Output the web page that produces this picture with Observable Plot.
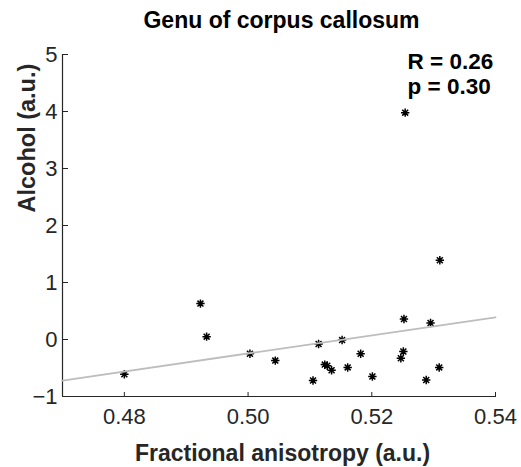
<!DOCTYPE html>
<html><head><meta charset="utf-8">
<script src="https://cdn.jsdelivr.net/npm/d3@7"></script>
<script src="https://cdn.jsdelivr.net/npm/@observablehq/plot@0.6"></script>
<style>body{margin:0;background:#fff;} svg{display:block}</style>
</head><body><div id="chart"></div>
<script>
const fa = [0.4800, 0.4923, 0.4933, 0.5003, 0.5044, 0.5105, 0.5114, 0.5124, 0.5128, 0.5135, 0.5152,
            0.5161, 0.5182, 0.5201, 0.5247, 0.5251, 0.5252, 0.5254, 0.5288, 0.5295, 0.5309, 0.5310];
const alcohol = [-0.61, 0.63, 0.05, -0.25, -0.37, -0.72, -0.08, -0.44, -0.46, -0.54, -0.01,
                 -0.49, -0.25, -0.65, -0.33, -0.21, 0.36, 3.98, -0.71, 0.29, -0.49, 1.39];
const fitX = [0.47, 0.54];
const fitY = [-0.72, 0.39];
const xDomain = [0.47, 0.54];
const yDomain = [-1, 5];
const xTicks = [0.48, 0.50, 0.52, 0.54];
const yTicks = [-1, 0, 1, 2, 3, 4, 5];
const title = "Genu of corpus callosum";
const xLabel = "Fractional anisotropy (a.u.)";
const yLabel = "Alcohol (a.u.)";
const stats = "R = 0.26\np = 0.30";

const points = fa.map((x, i) => ({x, y: alcohol[i]}));
const fit = fitX.map((x, i) => ({x, y: fitY[i]}));

// MATLAB-style asterisk: "+" and "x" overlaid
const asterisk = {
  draw(ctx, size) {
    const l = Math.sqrt(size / Math.PI);
    const d = l * Math.SQRT1_2;
    ctx.moveTo(-l, 0); ctx.lineTo(l, 0);
    ctx.moveTo(0, -l); ctx.lineTo(0, l);
    ctx.moveTo(-d, -d); ctx.lineTo(d, d);
    ctx.moveTo(-d, d); ctx.lineTo(d, -d);
  }
};

const font = "'Liberation Sans', Arial, Helvetica, sans-serif";
const chart = Plot.plot({
  width: 521, height: 467,
  marginLeft: 62, marginRight: 26, marginTop: 54, marginBottom: 71,
  style: {fontFamily: font, fontSize: "22px", color: "#262626", background: "white"},
  x: {domain: xDomain},
  y: {domain: yDomain},
  marks: [
    Plot.axisX({ticks: xTicks, tickSize: 0, tickPadding: 12, tickFormat: d3.format(".2f"), label: null, fontSize: 22}),
    Plot.axisX({ticks: xTicks, anchor: "top", frameAnchor: "bottom", tickSize: 5, tickFormat: () => "", label: null}),
    Plot.axisY({ticks: yTicks, tickSize: 0, tickPadding: 5, tickFormat: d3.format("d"), label: null, fontSize: 22}),
    Plot.axisY({ticks: yTicks, anchor: "right", frameAnchor: "left", tickSize: 5, tickFormat: () => "", label: null}),
    Plot.ruleX([xDomain[0]], {stroke: "#262626", strokeWidth: 1.2}),
    Plot.ruleY([yDomain[0]], {stroke: "#262626", strokeWidth: 1.2}),
    Plot.dot(points, {x: "x", y: "y", symbol: asterisk, r: 4.2, stroke: "black", strokeWidth: 1.5, fill: "none"}),
    Plot.line(fit, {x: "x", y: "y", stroke: "#bdbdbd", strokeWidth: 1.8}),
    Plot.text([title], {frameAnchor: "top", lineAnchor: "bottom", dy: -27, dx: 2.5, fontSize: 23, fontWeight: "bold", fill: "black"}),
    Plot.text([stats], {frameAnchor: "top-right", textAnchor: "start", lineAnchor: "bottom", dx: -88, dy: 39, lineHeight: 25/22.5, fontSize: 22.5, fontWeight: "bold", fill: "black"}),
    Plot.text([xLabel], {frameAnchor: "bottom", lineAnchor: "bottom", dy: 64, dx: 3.5, fontSize: 23, fontWeight: "bold", fill: "#262626"}),
    Plot.text([yLabel], {frameAnchor: "left", rotate: -90, lineAnchor: "bottom", dx: -28, dy: -13, fontSize: 23.5, fontWeight: "bold", fill: "#262626"})
  ]
});
document.getElementById("chart").appendChild(chart);
</script>
</body></html>
